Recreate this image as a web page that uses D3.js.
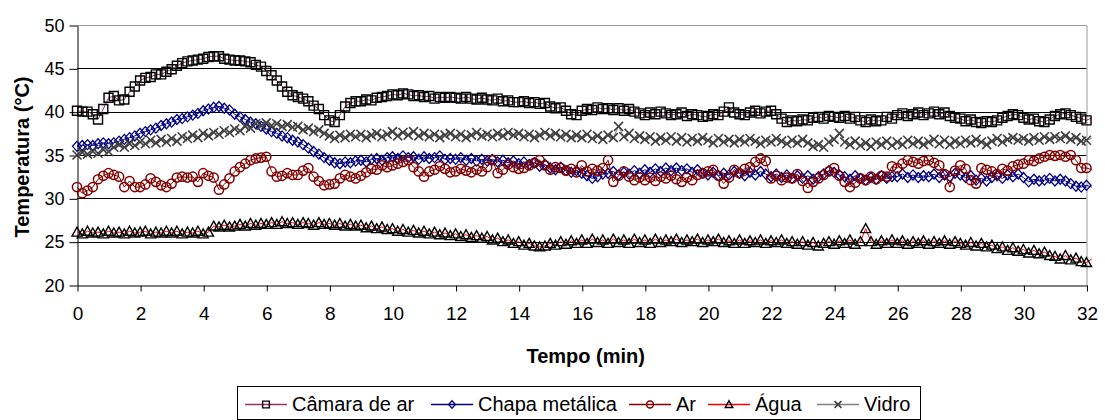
<!DOCTYPE html>
<html>
<head>
<meta charset="utf-8">
<script src="https://cdn.jsdelivr.net/npm/d3@7"></script>
<style>
  html, body { margin: 0; padding: 0; background: #fff; }
  svg { display: block; font-family: "Liberation Sans", Arial, sans-serif; }
</style>
</head>
<body>
<svg id="chart" width="1105" height="420"></svg>
<script>
// Temperatures (°C) logged every 10 s over 32 minutes
const camaraDeAr = [
  40.1,40.0,40.0,39.7,39.1,40.3, 41.6,41.8,41.3,41.4,42.3,42.9,
  43.6,43.9,44.0,44.3,44.3,44.6, 44.9,45.3,45.6,45.8,45.9,46.0,
  46.1,46.3,46.4,46.4,46.1,46.0, 45.9,45.9,45.8,45.7,45.4,45.2,
  44.7,44.2,43.6,42.9,42.3,41.9, 41.7,41.5,41.2,40.7,40.3,39.6,
  39.0,38.8,39.6,40.6,41.0,41.2, 41.2,41.4,41.3,41.6,41.7,41.8,
  42.0,41.9,42.1,42.0,41.8,41.9, 41.7,41.8,41.5,41.7,41.6,41.7,
  41.6,41.5,41.7,41.5,41.4,41.6, 41.4,41.3,41.5,41.2,41.3,41.1,
  41.1,41.2,41.0,41.1,40.9,41.0, 40.6,40.4,40.5,40.1,39.7,39.6,
  40.1,40.3,40.2,40.5,40.3,40.4, 40.2,40.4,40.1,40.3,40.0,39.8,
  39.6,39.9,39.7,40.0,39.8,39.6, 39.7,39.9,39.5,39.7,39.6,39.4,
  39.5,39.7,39.6,40.0,40.5,39.9, 39.7,39.6,39.9,40.1,39.8,40.0,
  40.1,39.7,39.2,38.8,39.0,38.9, 39.1,39.0,39.3,39.4,39.2,39.5,
  39.4,39.3,39.5,39.2,39.4,39.0, 38.8,39.1,38.9,39.0,39.4,39.2,
  39.6,39.8,39.5,39.7,39.9,39.6, 39.8,40.0,39.7,39.9,39.5,39.3,
  39.2,38.9,39.1,38.8,38.7,38.9, 38.8,39.0,39.3,39.5,39.7,39.6,
  39.3,39.1,39.2,38.9,38.8,39.1, 39.5,39.7,39.8,39.6,39.4,39.2,
  39.0,39.3
];
const chapaMetalica = [
  36.0,36.1,36.2,36.1,36.3,36.4, 36.3,36.4,36.6,36.8,37.0,37.2,
  37.5,37.7,37.9,38.1,38.4,38.6, 38.8,39.1,39.2,39.4,39.6,39.8,
  40.1,40.3,40.5,40.6,40.4,40.2, 39.7,39.4,39.1,38.8,38.6,38.3,
  38.0,37.7,37.5,37.2,37.0,36.7, 36.5,36.2,35.8,35.4,35.1,34.7,
  34.4,34.1,34.0,34.2,34.1,34.3, 34.4,34.2,34.5,34.6,34.4,34.7,
  34.8,34.6,34.9,34.7,34.8,34.5, 34.8,34.6,34.7,34.9,34.5,34.6,
  34.5,34.7,34.4,34.6,34.3,34.5, 34.3,34.5,34.2,34.4,34.1,34.3,
  34.0,34.2,33.9,34.1,33.7,33.9, 33.5,33.3,33.6,33.2,33.0,33.2,
  32.9,32.6,32.3,32.5,32.8,32.9, 33.1,32.7,33.0,32.8,33.2,32.9,
  33.3,33.0,33.4,33.1,33.5,33.2, 33.5,33.2,33.4,33.0,33.3,32.9,
  32.7,33.0,32.6,32.9,32.7,33.1, 32.9,32.6,33.0,32.7,33.1,32.8,
  32.5,32.8,32.4,32.7,32.3,32.6, 32.3,32.6,32.2,32.5,32.8,33.2,
  33.0,32.7,32.5,32.2,32.6,32.3, 32.1,32.4,32.2,32.6,32.3,32.5,
  32.5,32.8,32.4,32.7,32.4,32.6, 32.5,32.8,32.4,32.7,32.5,32.9,
  32.7,32.4,32.6,32.1,32.3,32.0, 32.4,32.6,32.3,32.7,32.5,32.8,
  32.4,31.9,32.2,32.0,32.1,32.3, 32.0,32.2,32.0,31.7,31.4,31.3,
  31.5,31.3
];
const ar = [
  31.3,30.6,30.9,31.3,32.2,32.6, 32.9,32.7,32.5,31.3,32.0,31.3,
  31.3,31.6,32.3,31.9,31.5,31.3, 31.7,32.4,32.5,32.4,32.5,31.9,
  32.9,32.6,32.4,31.0,31.6,32.3, 33.1,33.6,34.0,34.4,34.6,34.7,
  34.8,33.1,32.5,32.6,32.9,32.7, 32.7,33.2,33.5,32.5,32.0,31.5,
  31.6,31.7,32.3,32.7,32.5,32.3, 32.6,33.0,33.4,33.3,33.8,33.6,
  33.8,34.0,34.2,34.4,33.6,33.1, 32.5,33.1,33.3,33.7,33.4,33.0,
  33.1,33.4,33.2,33.0,33.3,33.1, 33.6,34.4,32.9,33.3,33.9,33.6,
  33.4,33.5,33.8,34.1,34.4,33.8, 33.3,33.6,33.5,33.2,33.4,33.0,
  33.8,33.1,33.4,33.2,33.5,34.4, 31.9,32.6,33.1,32.5,32.1,32.4,
  32.1,32.4,32.0,32.5,32.3,32.6, 32.2,31.9,32.4,32.1,32.7,32.9,
  33.1,33.3,32.6,31.7,32.4,33.3, 32.9,33.4,33.6,34.2,34.6,34.3,
  32.3,32.6,32.1,32.4,32.3,32.8, 32.0,31.2,31.9,32.3,32.7,33.1,
  33.5,32.6,31.9,31.3,31.8,32.3, 32.1,32.5,32.2,32.6,32.5,33.7,
  33.5,34.0,34.4,34.2,34.0,34.3, 34.4,34.1,33.8,32.8,31.3,33.2,
  33.8,33.4,32.1,31.7,33.5,33.3, 33.1,32.8,33.4,33.2,33.7,33.9,
  34.0,34.4,34.3,34.6,34.8,35.0, 34.9,35.0,34.8,35.0,34.4,33.5,
  33.5,33.3
];
const agua = [
  26.1,25.9,26.2,26.0,26.1,25.9, 26.2,26.0,26.1,25.9,26.2,26.0,
  26.1,26.2,25.9,26.1,26.0,26.2, 26.0,26.2,25.9,26.1,26.0,26.2,
  25.9,26.1,26.8,26.7,26.9,26.7, 26.8,27.0,26.8,27.1,26.9,27.1,
  27.0,27.2,27.0,27.3,27.1,27.2, 27.0,27.2,27.1,26.9,27.2,27.0,
  27.1,26.9,27.1,26.8,27.0,26.8, 26.9,26.6,26.8,26.5,26.7,26.4,
  26.5,26.2,26.4,26.1,26.3,26.0, 26.2,25.9,26.1,25.8,26.0,25.7,
  25.9,25.6,25.8,25.5,25.7,25.4, 25.6,25.2,25.4,25.0,25.2,24.8,
  25.0,24.6,24.8,24.5,24.4,24.5, 24.8,24.6,25.0,24.7,25.1,24.8,
  25.2,24.8,25.3,24.9,25.2,24.8, 25.3,24.9,25.2,24.8,25.3,24.9,
  25.2,24.8,25.3,24.9,25.2,25.0, 25.3,24.9,25.2,25.0,25.3,24.9,
  25.2,25.0,25.3,24.9,25.1,24.8, 25.2,24.8,25.1,24.9,25.2,24.8,
  25.1,24.9,25.2,24.8,25.0,24.7, 25.0,24.6,24.9,24.5,24.8,25.0,
  24.7,25.1,24.8,25.2,24.7,25.0, 26.5,25.0,24.7,25.1,24.8,25.2,
  24.8,25.1,24.7,25.0,24.8,25.1, 24.7,25.0,24.8,25.1,24.7,25.0,
  24.8,24.6,24.9,24.5,24.8,24.4, 24.6,24.2,24.4,24.0,24.3,23.9,
  24.1,23.7,24.0,23.6,23.8,23.4, 23.3,23.0,23.4,22.9,23.1,22.7,
  22.6,23.0
];
const vidro = [
  35.0,35.3,35.1,35.4,35.2,35.6, 35.4,35.9,36.2,35.9,36.3,36.1,
  36.5,36.3,36.7,36.4,36.8,36.5, 36.9,36.6,37.1,36.9,37.3,37.0,
  37.5,37.2,37.6,37.4,37.8,37.6, 38.0,37.8,38.3,38.1,38.6,38.4,
  38.7,38.4,38.6,38.3,38.5,38.2, 38.3,37.9,38.1,37.7,37.9,37.5,
  37.2,36.9,37.3,37.0,37.4,37.1, 37.4,37.0,37.3,37.5,37.1,37.4,
  37.7,37.2,37.6,37.3,37.7,37.2, 37.5,37.1,37.4,37.0,37.3,37.5,
  37.1,37.4,37.0,37.3,37.6,37.2, 37.4,37.1,37.5,37.2,37.6,37.3,
  37.5,37.1,37.4,37.0,37.3,37.6, 37.2,37.5,37.1,37.4,37.0,37.3,
  37.0,37.4,36.9,37.2,36.8,37.3, 37.0,38.3,37.1,37.5,36.9,37.2,
  36.8,37.1,36.6,37.0,36.7,37.1, 36.6,37.0,36.5,36.9,36.6,37.0,
  36.7,36.4,36.9,36.5,36.8,36.4, 36.8,36.5,36.9,36.6,36.3,36.7,
  36.5,36.9,36.6,36.3,36.7,36.4, 36.8,36.4,36.0,36.2,35.9,36.5,
  36.8,37.5,36.5,36.2,36.6,36.1, 36.4,36.0,36.5,36.2,36.6,36.1,
  36.5,36.2,36.7,36.3,36.6,36.2, 36.5,36.8,36.3,36.7,36.2,36.6,
  36.3,36.7,36.4,36.8,36.5,36.2, 36.6,36.9,36.5,36.8,37.0,36.7,
  36.9,36.6,37.0,36.7,37.1,36.8, 37.1,36.9,37.2,36.8,37.0,36.6,
  36.7,36.9
];

// Sample times in minutes (one reading every 10 s)
const tempoMin = d3.range(camaraDeAr.length).map(i => i / 6);

const xTicks = d3.range(0, 33, 2);
const yTicks = [20, 25, 30, 35, 40, 45, 50];
const seriesNames = ["Câmara de ar", "Chapa metálica", "Ar", "Água", "Vidro"];

// Marker shapes
const markerPaths = {
  square:   "M-4.5,-4.5H4.5V4.5H-4.5Z",
  diamond:  "M0,-5L4.5,0L0,5L-4.5,0Z",
  triangle: "M0,-5L5,4H-5Z",
  cross:    "M-4.5,-4.5L4.5,4.5M-4.5,4.5L4.5,-4.5"
};

const series = [
  { name: seriesNames[0], values: camaraDeAr,    line: "#993366", marker: "square",   mStroke: "#000000", mWidth: 1.4 },
  { name: seriesNames[1], values: chapaMetalica, line: "#000080", marker: "diamond",  mStroke: "#000080", mWidth: 1.3 },
  { name: seriesNames[2], values: ar,            line: "#800000", marker: "circle",   mStroke: "#800000", mWidth: 1.5 },
  { name: seriesNames[3], values: agua,          line: "#FF0000", marker: "triangle", mStroke: "#000000", mWidth: 1.4 },
  { name: seriesNames[4], values: vidro,         line: "#808080", marker: "cross",    mStroke: "#404040", mWidth: 1.6 }
];

const svg = d3.select("#chart");
const plot = { left: 77, right: 1086.5, top: 25, bottom: 285 };

const x = d3.scaleLinear().domain([0, 32]).range([plot.left, plot.right]);
const y = d3.scaleLinear().domain([20, 50]).range([plot.bottom, plot.top]);

// Horizontal gridlines
svg.append("g")
  .selectAll("line")
  .data(yTicks.filter(v => v > 20 && v < 50))
  .join("line")
  .attr("x1", plot.left).attr("x2", plot.right)
  .attr("y1", d => Math.round(y(d)) + 0.5).attr("y2", d => Math.round(y(d)) + 0.5)
  .attr("stroke", "#000").attr("stroke-width", 1);

// Plot-area frame (top and right)
svg.append("path")
  .attr("d", `M${plot.left},${plot.top + 0.5}H${plot.right + 0.5}V${plot.bottom}`)
  .attr("fill", "none").attr("stroke", "#9a9a9a").attr("stroke-width", 1);

// Axes
const yAxis = svg.append("g")
  .attr("transform", `translate(${plot.left + 0.5},0.5)`)
  .call(d3.axisLeft(y).tickValues(yTicks).tickSize(8).tickPadding(5).tickSizeOuter(0));
const xAxis = svg.append("g")
  .attr("transform", `translate(0.5,${plot.bottom + 0.5})`)
  .call(d3.axisBottom(x).tickValues(xTicks).tickSize(6).tickPadding(15).tickSizeOuter(0));

[yAxis, xAxis].forEach(g => {
  g.select(".domain").attr("stroke", "#000").attr("stroke-width", 1);
  g.selectAll(".tick line").attr("stroke", "#000");
  g.selectAll("text").attr("fill", "#000")
    .style("font-family", "'Liberation Sans', Arial, sans-serif");
});
yAxis.selectAll("text").style("font-size", "18px");
xAxis.selectAll("text").style("font-size", "19px");

// Series lines and markers
const line = d3.line().x((d, i) => x(tempoMin[i])).y(d => y(d));

function drawMarker(sel, s, scale) {
  if (s.marker === "circle") {
    sel.append("circle").attr("r", 4.6 * scale)
      .attr("fill", "none").attr("stroke", s.mStroke).attr("stroke-width", s.mWidth);
  } else {
    sel.append("path").attr("d", markerPaths[s.marker])
      .attr("transform", `scale(${scale})`)
      .attr("fill", "none").attr("stroke", s.mStroke)
      .attr("stroke-width", s.mWidth / scale);
  }
}

series.forEach(s => {
  const g = svg.append("g").attr("class", "series");
  g.append("path")
    .datum(s.values)
    .attr("d", line)
    .attr("fill", "none")
    .attr("stroke", s.line)
    .attr("stroke-width", 1);

  const pts = s.values
    .map((v, i) => ({ t: tempoMin[i], v }))
    .filter(p => p.t <= 32 + 1e-9);

  g.selectAll("g.pt")
    .data(pts)
    .join("g")
    .attr("class", "pt")
    .attr("transform", p => `translate(${x(p.t)},${y(p.v)})`)
    .each(function () { drawMarker(d3.select(this), s, 1); });
});

// Axis titles
svg.append("text")
  .attr("transform", "translate(29,157) rotate(-90)")
  .attr("text-anchor", "middle")
  .style("font-size", "20px").style("font-weight", "bold")
  .text("Temperatura (°C)");

svg.append("text")
  .attr("x", (plot.left + plot.right) / 2 + 4)
  .attr("y", 363)
  .attr("text-anchor", "middle")
  .style("font-size", "20px").style("font-weight", "bold")
  .text("Tempo (min)");

// Legend
const legend = svg.append("g");
legend.append("rect")
  .attr("x", 237.5).attr("y", 386.5)
  .attr("width", 683).attr("height", 33)
  .attr("fill", "#fff").attr("stroke", "#000").attr("stroke-width", 1);

const legendStart = [245, 431, 629, 708, 817];
const legendLine = 42;
series.forEach((s, i) => {
  const lx = legendStart[i];
  const item = legend.append("g");
  item.append("line")
    .attr("x1", lx).attr("x2", lx + legendLine)
    .attr("y1", 404.5).attr("y2", 404.5)
    .attr("stroke", s.line).attr("stroke-width", 1.3);
  const m = item.append("g").attr("transform", `translate(${lx + legendLine / 2},404.5)`);
  drawMarker(m, s, 0.75);
  item.append("text")
    .attr("x", lx + legendLine + 5).attr("y", 411)
    .style("font-size", "20px")
    .text(s.name);
});
</script>
</body>
</html>
